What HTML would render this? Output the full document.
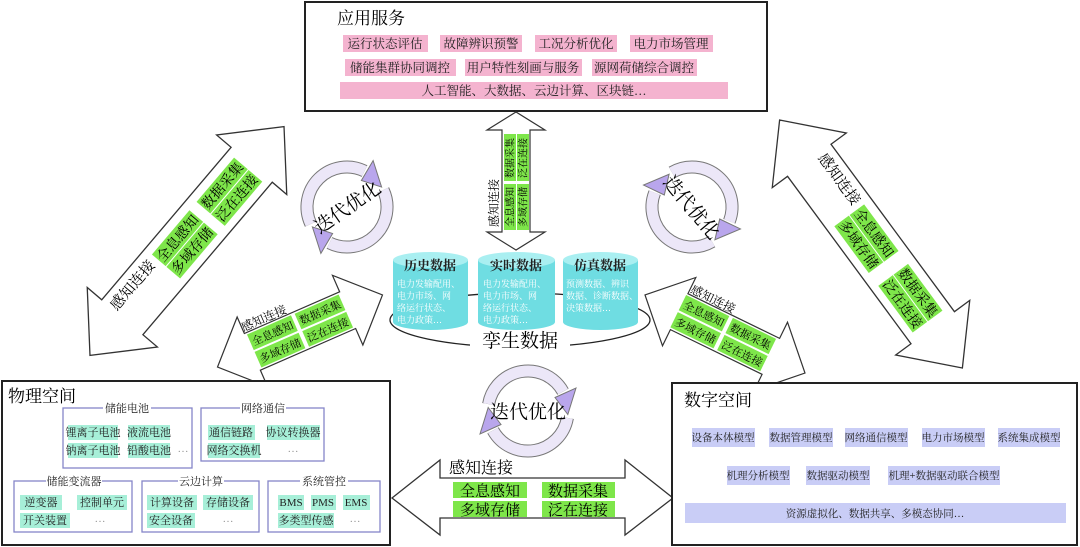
<!DOCTYPE html>
<html><head><meta charset="utf-8"><style>
html,body{margin:0;padding:0;background:#fff;}
svg{display:block;font-family:"Liberation Serif","Noto Serif CJK SC",serif;}
</style></head><body>
<svg width="1080" height="547" viewBox="0 0 1080 547" xmlns="http://www.w3.org/2000/svg">
<defs>
<g id="cyc">
  <path d="M -39.4 -6.9 A 40 40 0 0 1 35 -19.4" fill="none" stroke="#777" stroke-width="13"/>
  <path d="M -39.4 -6.9 A 40 40 0 0 1 35 -19.4" fill="none" stroke="#ece7f8" stroke-width="11"/>
  <polygon points="39.8,3.5 27,-13.5 48,-23" fill="#b9a6ec" stroke="#777" stroke-width="1"/>
  <path d="M 39.4 6.9 A 40 40 0 0 1 -35 19.4" fill="none" stroke="#777" stroke-width="13"/>
  <path d="M 39.4 6.9 A 40 40 0 0 1 -35 19.4" fill="none" stroke="#ece7f8" stroke-width="11"/>
  <polygon points="-39.8,-3.5 -27,13.5 -48,23" fill="#b9a6ec" stroke="#777" stroke-width="1"/>
</g>
</defs>

<!-- Top box -->
<rect x="305" y="2" width="462" height="109" fill="#fff" stroke="#222" stroke-width="2"/>
<text x="337" y="24" font-size="17">应用服务</text>
<g fill="#f4b3cf">
<rect x="343" y="35" width="85" height="17"/><rect x="440" y="35" width="82" height="17"/><rect x="535" y="35" width="82" height="17"/><rect x="630" y="35" width="83" height="17"/>
<rect x="345" y="59" width="111" height="17"/><rect x="465" y="59" width="117" height="17"/><rect x="592" y="59" width="105" height="17"/>
<rect x="340" y="82" width="388" height="17"/>
</g>
<g font-size="12.5" text-anchor="middle" fill="#222">
<text x="385" y="48">运行状态评估</text><text x="481" y="48">故障辨识预警</text><text x="576" y="48">工况分析优化</text><text x="671" y="48">电力市场管理</text>
<text x="400" y="72">储能集群协同调控</text><text x="523" y="72">用户特性刻画与服务</text><text x="644" y="72">源网荷储综合调控</text>
<text x="534" y="95">人工智能、大数据、云边计算、区块链…</text>
</g>

<!-- Big left arrow -->
<g transform="translate(187,241) rotate(-49.7)" font-size="14">
<polygon points="-150,0 -100,-46 -100,-27 100,-27 100,-46 150,0 100,46 100,27 -100,27 -100,46" fill="#fff" stroke="#333" stroke-width="1.3"/>
<text x="-99" y="-8" font-size="15">感知连接</text>
<g fill="#7ee64a"><rect x="-33" y="-18" width="58" height="18"/><rect x="-33" y="1" width="58" height="18"/><rect x="36" y="-18" width="58" height="18"/><rect x="36" y="1" width="58" height="18"/></g>
<g text-anchor="middle"><text x="-4" y="-4">全息感知</text><text x="-4" y="15">多域存储</text><text x="65" y="-4">数据采集</text><text x="65" y="15">泛在连接</text></g>
</g>

<!-- Big right arrow -->
<g transform="translate(871,244) rotate(53.6)" font-size="14">
<polygon points="-154,0 -104,-46 -104,-27 104,-27 104,-46 154,0 104,46 104,27 -104,27 -104,46" fill="#fff" stroke="#333" stroke-width="1.3"/>
<text x="-101" y="-8" font-size="15">感知连接</text>
<g fill="#7ee64a"><rect x="-36" y="-18" width="58" height="18"/><rect x="-36" y="1" width="58" height="18"/><rect x="38" y="-18" width="58" height="18"/><rect x="38" y="1" width="58" height="18"/></g>
<g text-anchor="middle"><text x="-7" y="-4">全息感知</text><text x="-7" y="15">多域存储</text><text x="67" y="-4">数据采集</text><text x="67" y="15">泛在连接</text></g>
</g>

<!-- Small left arrow -->
<g transform="translate(300,331) rotate(-23.6)" font-size="11">
<polygon points="-90,0 -52,-38 -52,-20 52,-20 52,-38 90,0 52,38 52,20 -52,20 -52,38" fill="#fff" stroke="#333" stroke-width="1.2"/>
<text x="-52" y="-22" font-size="12">感知连接</text>
<g fill="#7ee64a"><rect x="-50" y="-18" width="48" height="17"/><rect x="-50" y="1" width="48" height="17"/><rect x="2" y="-18" width="48" height="17"/><rect x="2" y="1" width="48" height="17"/></g>
<g text-anchor="middle"><text x="-26" y="-5">全息感知</text><text x="-26" y="14">多域存储</text><text x="26" y="-5">数据采集</text><text x="26" y="14">泛在连接</text></g>
</g>

<!-- Small right arrow -->
<g transform="translate(725,334) rotate(26)" font-size="11">
<polygon points="-89,0 -51,-38 -51,-20 51,-20 51,-38 89,0 51,38 51,20 -51,20 -51,38" fill="#fff" stroke="#333" stroke-width="1.2"/>
<text x="-50" y="-22" font-size="12">感知连接</text>
<g fill="#7ee64a"><rect x="-52" y="-18" width="48" height="17"/><rect x="-52" y="1" width="48" height="17"/><rect x="0" y="-18" width="48" height="17"/><rect x="0" y="1" width="48" height="17"/></g>
<g text-anchor="middle"><text x="-28" y="-5">全息感知</text><text x="-28" y="14">多域存储</text><text x="24" y="-5">数据采集</text><text x="24" y="14">泛在连接</text></g>
</g>

<!-- Vertical center arrow -->
<g transform="translate(516,181) rotate(-90)" font-size="10">
<polygon points="-69,0 -51,-29 -51,-14 51,-14 51,-29 69,0 51,29 51,14 -51,14 -51,29" fill="#fff" stroke="#333" stroke-width="1.2"/>
<text x="-46" y="-18" font-size="12">感知连接</text>
<g fill="#7ee64a"><rect x="-49" y="-12" width="46" height="12"/><rect x="-49" y="1" width="46" height="12"/><rect x="0" y="-12" width="47" height="12"/><rect x="0" y="1" width="47" height="12"/></g>
<g text-anchor="middle"><text x="-26" y="-2.5">全息感知</text><text x="-26" y="10.5">多域存储</text><text x="23" y="-2.5">数据采集</text><text x="23" y="10.5">泛在连接</text></g>
</g>

<!-- Bottom arrow -->
<g font-size="15">
<polygon points="392,498 440,460 440,478 625,478 625,460 673,498 625,535 625,518 440,518 440,535" fill="#fff" stroke="#333" stroke-width="1.3"/>
<text x="449" y="473" font-size="16">感知连接</text>
<g fill="#7ee64a"><rect x="453" y="482" width="74" height="16"/><rect x="453" y="501" width="74" height="16"/><rect x="542" y="482" width="73" height="16"/><rect x="542" y="501" width="73" height="16"/></g>
<g text-anchor="middle"><text x="490" y="496">全息感知</text><text x="490" y="515">多域存储</text><text x="578" y="496">数据采集</text><text x="578" y="515">泛在连接</text></g>
</g>

<!-- Cycles -->
<g transform="translate(347,207) rotate(-35)"><use href="#cyc"/><text x="0" y="7" font-size="19" text-anchor="middle">迭代优化</text></g>
<g transform="translate(692,207) rotate(50)"><use href="#cyc"/><text x="0" y="7" font-size="19" text-anchor="middle">迭代优化</text></g>
<g transform="translate(528,411)"><use href="#cyc"/><text x="0" y="7" font-size="19" text-anchor="middle">迭代优化</text></g>

<!-- Twin data -->
<ellipse cx="520" cy="320" rx="130" ry="27" fill="none" stroke="#222" stroke-width="1.3"/>
<rect x="470" y="330" width="100" height="20" fill="#fff"/>
<text x="520" y="347" font-size="19" text-anchor="middle">孪生数据</text>
<g>
<path d="M393 260 L393 322 A37.5 8 0 0 0 468 322 L468 260 Z" fill="#6fdde2"/>
<ellipse cx="430.5" cy="260" rx="37.5" ry="8" fill="#a9eff1"/>
<path d="M478 260 L478 322 A38.5 8 0 0 0 555 322 L555 260 Z" fill="#6fdde2"/>
<ellipse cx="516.5" cy="260" rx="38.5" ry="8" fill="#a9eff1"/>
<path d="M563 260 L563 322 A37.5 8 0 0 0 638 322 L638 260 Z" fill="#6fdde2"/>
<ellipse cx="600.5" cy="260" rx="37.5" ry="8" fill="#a9eff1"/>
</g>
<g font-size="13" font-weight="bold" text-anchor="middle" fill="#222">
<text x="430" y="270">历史数据</text><text x="516" y="270">实时数据</text><text x="600" y="270">仿真数据</text>
</g>
<g font-size="9" fill="#fff">
<text x="397" y="287">电力发输配用、</text><text x="397" y="299">电力市场、网</text><text x="397" y="311">络运行状态、</text><text x="397" y="323">电力政策…</text>
<text x="483" y="287">电力发输配用、</text><text x="483" y="299">电力市场、网</text><text x="483" y="311">络运行状态、</text><text x="483" y="323">电力政策…</text>
<text x="566" y="287">预测数据、辨识</text><text x="566" y="299">数据、诊断数据、</text><text x="566" y="311">决策数据…</text>
</g>

<!-- Physical space -->
<rect x="2" y="381" width="388" height="164" fill="#fff" stroke="#222" stroke-width="2"/>
<text x="8" y="402" font-size="17">物理空间</text>
<g fill="none" stroke="#8585c8" stroke-width="1.3">
<rect x="63" y="408" width="129" height="60"/><rect x="201" y="408" width="123" height="53"/>
<rect x="14" y="481" width="118" height="51"/><rect x="142" y="481" width="117" height="51"/><rect x="268" y="481" width="112" height="51"/>
</g>
<g fill="#fff"><rect x="103" y="402" width="48" height="12"/><rect x="240" y="402" width="46" height="12"/><rect x="46" y="475" width="56" height="12"/><rect x="178" y="475" width="46" height="12"/><rect x="300" y="475" width="48" height="12"/></g>
<g fill="#a7efd8">
<rect x="68" y="425" width="50" height="15"/><rect x="128" y="425" width="42" height="15"/><rect x="68" y="443" width="50" height="15"/><rect x="128" y="443" width="42" height="15"/>
<rect x="208" y="425" width="47" height="15"/><rect x="267" y="425" width="53" height="15"/><rect x="208" y="443" width="52" height="15"/>
<rect x="20" y="495" width="42" height="15"/><rect x="77" y="495" width="50" height="15"/><rect x="20" y="513" width="50" height="15"/>
<rect x="147" y="495" width="50" height="15"/><rect x="203" y="495" width="50" height="15"/><rect x="147" y="513" width="48" height="15"/>
<rect x="278" y="495" width="26" height="15"/><rect x="311" y="495" width="25" height="15"/><rect x="343" y="495" width="27" height="15"/><rect x="278" y="513" width="56" height="15"/>
</g>
<g font-size="11" text-anchor="middle" fill="#222">
<text x="127" y="412">储能电池</text><text x="263" y="412">网络通信</text><text x="74" y="485">储能变流器</text><text x="201" y="485">云边计算</text><text x="324" y="485">系统管控</text>
<text x="93" y="436">锂离子电池</text><text x="149" y="436">液流电池</text><text x="93" y="454">钠离子电池</text><text x="149" y="454">铅酸电池</text><text x="183" y="452" fill="#999">…</text>
<text x="231" y="436">通信链路</text><text x="293" y="436">协议转换器</text><text x="234" y="454">网络交换机</text><text x="293" y="452" fill="#999">…</text>
<text x="41" y="506">逆变器</text><text x="102" y="506">控制单元</text><text x="45" y="524">开关装置</text><text x="100" y="522" fill="#999">…</text>
<text x="172" y="506">计算设备</text><text x="228" y="506">存储设备</text><text x="171" y="524">安全设备</text><text x="228" y="522" fill="#999">…</text>
<text x="291" y="506">BMS</text><text x="323" y="506">PMS</text><text x="356" y="506">EMS</text><text x="306" y="524">多类型传感</text><text x="355" y="522" fill="#999">…</text>
</g>

<!-- Digital space -->
<rect x="672" y="383" width="405" height="162" fill="#fff" stroke="#222" stroke-width="2"/>
<text x="684" y="406" font-size="17">数字空间</text>
<g fill="#c9cdf6">
<rect x="692" y="428" width="63" height="19"/><rect x="769" y="428" width="64" height="19"/><rect x="845" y="428" width="63" height="19"/><rect x="922" y="428" width="63" height="19"/><rect x="998" y="428" width="62" height="19"/>
<rect x="727" y="466" width="63" height="19"/><rect x="806" y="466" width="64" height="19"/><rect x="888" y="466" width="112" height="19"/>
<rect x="685" y="503" width="381" height="20"/>
</g>
<g font-size="10.5" text-anchor="middle" fill="#222">
<text x="723" y="441">设备本体模型</text><text x="801" y="441">数据管理模型</text><text x="876" y="441">网络通信模型</text><text x="953" y="441">电力市场模型</text><text x="1029" y="441">系统集成模型</text>
<text x="758" y="479">机理分析模型</text><text x="838" y="479">数据驱动模型</text><text x="944" y="479">机理+数据驱动联合模型</text>
<text x="875" y="517">资源虚拟化、数据共享、多模态协同…</text>
</g>
</svg>
</body></html>
